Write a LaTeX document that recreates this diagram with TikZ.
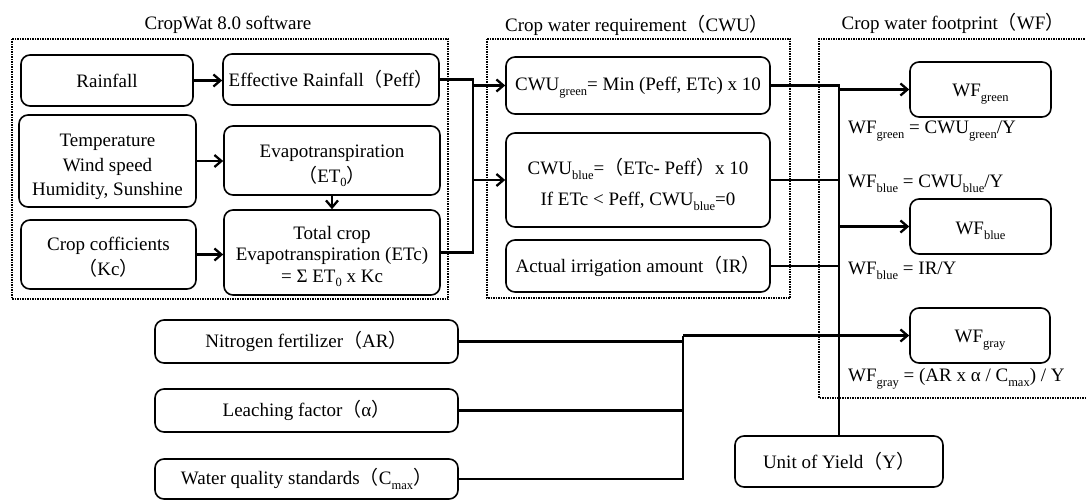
\documentclass[tikz,border=0pt]{standalone}
\usepackage{fontspec}
\setmainfont{Liberation Serif}
\newfontfamily\cjk{Noto Sans CJK SC}
\usetikzlibrary{arrows.meta}
\newcommand\lp{{\cjk （}}
\newcommand\rp{{\cjk ）}}
\newcommand\sbt[1]{\raisebox{-0.55ex}{\fontsize{12.5}{12.5}\selectfont #1}}
\newcommand\topstrut[1]{\rule{0pt}{#1}}
\begin{document}
\begin{tikzpicture}[x=1pt,y=-1pt,
  box/.style={draw, line width=1.6pt, rounded corners=9pt, align=center, inner sep=0pt, font=\fontsize{19}{24.5}\selectfont},
  conn/.style={line width=2.3pt},
  arr/.style={conn, -{Straight Barb[length=7pt,width=12pt]}},
  grp/.style={line width=1.6pt, dash pattern=on 1.5pt off 1pt},
  ttl/.style={font=\fontsize{19}{22}\selectfont, inner sep=0pt},
  lbl/.style={anchor=west, inner sep=0pt, font=\fontsize{19}{22}\selectfont}]
\useasboundingbox (0,0) rectangle (1086,500);

% group frames
\draw[grp] (12,39) rectangle (448,299);
\draw[grp] (487,39) rectangle (790,298);
\draw[grp] (1092,39) -- (819,39) -- (819,398) -- (1092,398);

% titles
\node[ttl] (t1) at (228,25) {CropWat 8.0 software};
\node[ttl] (t2) at (637,25) {Crop water requirement\lp CWU\rp};
\node[ttl] (t3) at (953,23) {Crop water footprint\lp WF\rp};

% CropWat boxes
\node[box, minimum width=172pt, minimum height=51pt] (rain) at (107,80.5) {Rainfall};
\node[box, minimum width=216pt, minimum height=51pt] (eff) at (331,79.5) {Effective Rainfall\lp Peff\rp};
\node[box, minimum width=177pt, minimum height=92pt] (temp) at (107.5,161) {\topstrut{25pt}Temperature\\Wind speed\\Humidity, Sunshine};
\node[box, minimum width=216pt, minimum height=69pt, font=\fontsize{19}{25}\selectfont] (et0) at (332,160.5) {\topstrut{23pt}Evapotranspiration\\\lp ET\sbt{0}\rp};
\node[box, minimum width=175pt, minimum height=69pt, font=\fontsize{19}{25}\selectfont] (kc) at (108.5,254.5) {\topstrut{19pt}Crop cofficients\\\lp Kc\rp};
\node[box, minimum width=216pt, minimum height=85pt, font=\fontsize{19}{21.5}\selectfont] (etc) at (332,252.5) {\topstrut{21pt}Total crop\\Evapotranspiration (ETc)\\= Σ ET\sbt{0} x Kc};

% CWU boxes
\node[box, minimum width=264pt, minimum height=57pt] (cwug) at (638,85.5) {\topstrut{17pt}CWU\sbt{green}= Min (Peff, ETc) x 10};
\node[box, minimum width=264pt, minimum height=94pt, font=\fontsize{19}{31}\selectfont] (cwub) at (638,180) {\topstrut{25pt}CWU\sbt{blue}=\lp ETc- Peff\rp x 10\\If ETc {\textless} Peff, CWU\sbt{blue}=0};
\node[box, minimum width=264pt, minimum height=52pt] (ir) at (638,266) {Actual irrigation amount\lp IR\rp};

% WF boxes
\node[box, minimum width=141pt, minimum height=55pt] (wfg) at (980.5,89.5) {\topstrut{21pt}WF\sbt{green}};
\node[box, minimum width=141pt, minimum height=55pt] (wfb) at (980.5,226.5) {\topstrut{21pt}WF\sbt{blue}};
\node[box, minimum width=140pt, minimum height=55pt] (wfy) at (980,335.5) {\topstrut{21pt}WF\sbt{gray}};

% lower inputs
\node[box, minimum width=303pt, minimum height=43pt] (ar) at (306.5,341.5) {Nitrogen fertilizer\lp AR\rp};
\node[box, minimum width=303pt, minimum height=43pt] (alpha) at (306.5,410.5) {Leaching factor\lp α\rp};
\node[box, minimum width=303pt, minimum height=40pt] (cmax) at (306.5,479) {Water quality standards\lp C\sbt{max}\rp};
\node[box, minimum width=208pt, minimum height=51pt] (uy) at (839,461.5) {Unit of Yield\lp Y\rp};

% formula labels
\node[lbl] (lg) at (848,131) {WF\sbt{green} = CWU\sbt{green}/Y};
\node[lbl] (lb1) at (848,184) {WF\sbt{blue} = CWU\sbt{blue}/Y};
\node[lbl] (lb2) at (848,271) {WF\sbt{blue} = IR/Y};
\node[lbl] (ly) at (848,379) {WF\sbt{gray} = (AR x α / C\sbt{max}) / Y};

% bus coordinates
\coordinate (busA) at (473,0);
\coordinate (busB) at (839,0);
\coordinate (busC) at (683,0);

% CropWat connectors
\draw[arr] (rain.east) -- (rain.east -| eff.west);
\draw[arr] (temp.east) -- (temp.east -| et0.west);
\draw[arr] (kc.east) -- (kc.east -| etc.west);
\draw[arr] (et0.south) -- (etc.north);

% to CWU
\draw[conn] (eff.east) -- (eff.east -| busA) -- (etc.east -| busA) -- (etc.east);
\draw[arr] (cwug.west -| busA) -- (cwug.west);
\draw[arr] (cwub.west -| busA) -- (cwub.west);

% to WF
\draw[conn] (cwug.east) -- (cwug.east -| busB) -- (uy.north);
\draw[conn] (cwub.east) -- (cwub.east -| busB);
\draw[conn] (ir.east) -- (ir.east -| busB);
\draw[arr] (wfg.west -| busB) -- (wfg.west);
\draw[arr] (wfb.west -| busB) -- (wfb.west);

% gray inputs
\draw[conn] (ar.east) -- (ar.east -| busC);
\draw[conn] (alpha.east) -- (alpha.east -| busC);
\draw[conn] (cmax.east) -- (cmax.east -| busC) -- (wfy.west -| busC);
\draw[arr] (wfy.west -| busC) -- (wfy.west);
\end{tikzpicture}
\end{document}
